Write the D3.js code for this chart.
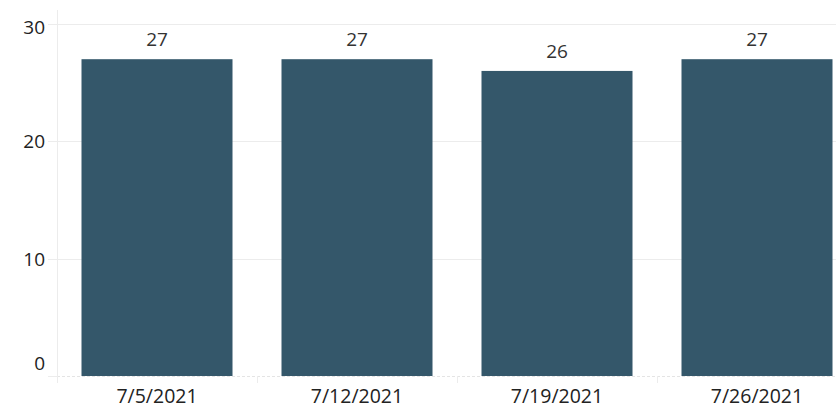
<!DOCTYPE html>
<html>
<head>
<meta charset="utf-8">
<script src="https://cdn.jsdelivr.net/npm/d3@7"></script>
<style>
  html, body { margin: 0; padding: 0; background: #fff; }
  svg { display: block; }
  text { font-family: "Open Sans", "Noto Sans", sans-serif; fill: #222; }
</style>
</head>
<body>
<svg id="chart" width="836" height="409"></svg>
<script>
const categories = ["7/5/2021", "7/12/2021", "7/19/2021", "7/26/2021"];
const values = [27, 27, 26, 27];
const yTicks = [0, 10, 20, 30];

const svg = d3.select("#chart");
const padLeft = 57, padBottom = 376, padTop = 24;

const x = d3.scaleBand().domain(categories).range([padLeft, padLeft + 800])
  .paddingInner(0.245).paddingOuter(0.1225);
const xCell = d3.scaleBand().domain(categories).range([padLeft, padLeft + 800]);
const y = d3.scaleLinear().domain([0, 30]).range([padBottom, padTop]);

// gridlines
svg.append("g").selectAll("line").data(yTicks.filter(d => d > 0)).join("line")
  .attr("x1", 48).attr("x2", 836)
  .attr("y1", d => Math.round(y(d)) + 0.5).attr("y2", d => Math.round(y(d)) + 0.5)
  .attr("stroke", "#ececec").attr("stroke-width", 1);
svg.append("line").attr("x1", 48).attr("x2", 57)
  .attr("y1", padBottom + 0.5).attr("y2", padBottom + 0.5)
  .attr("stroke", "#ececec");

// vertical axis line
svg.append("line").attr("x1", padLeft + 0.5).attr("x2", padLeft + 0.5)
  .attr("y1", 10).attr("y2", 383).attr("stroke", "#ececec");

// bars
svg.append("g").selectAll("rect").data(categories).join("rect")
  .attr("x", d => x(d))
  .attr("width", x.bandwidth())
  .attr("y", (d, i) => y(values[i]))
  .attr("height", (d, i) => y(0) - y(values[i]))
  .attr("fill", "#34576a");

// baseline
svg.append("line").attr("x1", padLeft).attr("x2", 836)
  .attr("y1", padBottom + 0.5).attr("y2", padBottom + 0.5)
  .attr("stroke", "#e4e4e4").attr("stroke-dasharray", "3,2");

// x cell separators
svg.append("g").selectAll("line").data(categories).join("line")
  .attr("x1", d => xCell(d) + 0.5).attr("x2", d => xCell(d) + 0.5)
  .attr("y1", padBottom).attr("y2", 383)
  .attr("stroke", "#ececec");

// bar labels
svg.append("g").selectAll("text").data(categories).join("text")
  .attr("x", d => x(d) + x.bandwidth() / 2)
  .attr("y", (d, i) => y(values[i]) - 13)
  .attr("text-anchor", "middle")
  .attr("font-size", 19)
  .style("fill", "#333")
  .text((d, i) => values[i]);

// y tick labels
svg.append("g").selectAll("text").data(yTicks).join("text")
  .attr("x", 45)
  .attr("y", d => {
    let c = y(d) + 7;
    if (c < 34) c = 34;
    if (c > 370) c = 370;
    return c;
  })
  .attr("text-anchor", "end")
  .attr("font-size", 19)
  .text(d => d);

// x labels
svg.append("g").selectAll("text").data(categories).join("text")
  .attr("x", d => x(d) + x.bandwidth() / 2)
  .attr("y", 403)
  .attr("text-anchor", "middle")
  .attr("font-size", 19.5)
  .text(d => d);
</script>
</body>
</html>
